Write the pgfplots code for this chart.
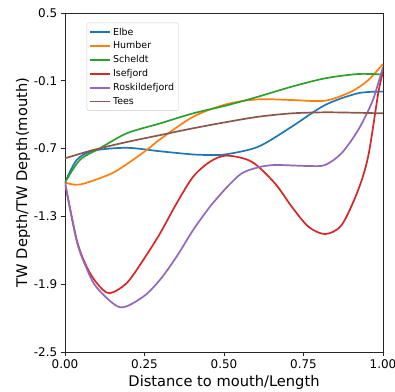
\documentclass[border=0pt]{standalone}
\usepackage{pgfplots}
\pgfplotsset{compat=1.18}
\usepackage{fontspec}
\setmainfont{DejaVu Sans}
\definecolor{tabblue}{HTML}{1F77B4}
\definecolor{taborange}{HTML}{FF7F0E}
\definecolor{tabgreen}{HTML}{2CA02C}
\definecolor{tabred}{HTML}{D62728}
\definecolor{tabpurple}{HTML}{9467BD}
\definecolor{tabbrown}{HTML}{8C564B}
\pgfplotsset{ln/.style={draw=#1, line width=1.7bp, smooth, mark=none}}
\begin{document}
\begin{tikzpicture}
\begin{axis}[
  scale only axis, width=318bp, height=339bp,
  xmin=0, xmax=1, ymin=-2.5, ymax=0.5,
  xtick={0,0.25,0.5,0.75,1}, ytick={0.5,-0.1,-0.7,-1.3,-1.9,-2.5},
  xticklabel style={/pgf/number format/.cd,fixed,fixed zerofill,precision=2},
  yticklabel style={/pgf/number format/.cd,fixed,fixed zerofill,precision=1},
  /pgf/number format/assume math mode=true,
  tick align=outside, tick pos=left,
  major tick length=4.3bp,
  tick label style={font=\fontsize{12}{14}\selectfont},
  xlabel={Distance to mouth/Length},
  ylabel={TW Depth/TW Depth(mouth)},
  every axis x label/.style={at={(axis description cs:0.5,0)}, yshift=-30bp, anchor=center, font=\fontsize{14.7}{17}\selectfont},
  every axis y label/.style={at={(axis description cs:0,0.5)}, xshift=-42bp, rotate=90, anchor=center, font=\fontsize{14.7}{17}\selectfont},
  axis line style={draw=black!85, line width=0.9bp},
  every tick/.style={black!85, line width=0.9bp},
  legend style={at={(21.7bp,329.3bp)}, anchor=north west, font=\fontsize{9.5}{11}\selectfont, draw=black!20, rounded corners=1.5pt, row sep=1.2bp, inner xsep=2.5bp, inner ysep=3bp},
  legend cell align=left,
  legend image code/.code={\draw[#1] (0bp,0bp) -- (20bp,0bp);},
]
\addplot[ln=tabblue] coordinates {(0,-1.0) (0.037,-0.80) (0.089,-0.719) (0.194,-0.693) (0.3,-0.724) (0.403,-0.752) (0.46,-0.756) (0.508,-0.75) (0.608,-0.683) (0.713,-0.506) (0.818,-0.314) (0.922,-0.21) (1.0,-0.196)};
\addlegendentry{Elbe}
\addplot[ln=taborange] coordinates {(0,-1.0) (0.047,-1.018) (0.142,-0.926) (0.194,-0.838) (0.257,-0.712) (0.3,-0.616) (0.403,-0.418) (0.508,-0.307) (0.608,-0.264) (0.713,-0.27) (0.818,-0.276) (0.9,-0.196) (0.954,-0.093) (1.0,0.049)};
\addlegendentry{Humber}
\addplot[ln=tabgreen] coordinates {(0,-1.0) (0.047,-0.80) (0.11,-0.697) (0.194,-0.565) (0.3,-0.476) (0.403,-0.388) (0.508,-0.318) (0.608,-0.24) (0.713,-0.152) (0.818,-0.078) (0.922,-0.04) (1.0,-0.045)};
\addlegendentry{Scheldt}
\addplot[ln=tabred] coordinates {(0,-1.0) (0.037,-1.51) (0.068,-1.745) (0.1,-1.89) (0.139,-1.98) (0.194,-1.89) (0.246,-1.686) (0.299,-1.45) (0.351,-1.184) (0.403,-0.949) (0.456,-0.816) (0.508,-0.762) (0.587,-0.816) (0.66,-1.007) (0.713,-1.214) (0.765,-1.39) (0.818,-1.456) (0.87,-1.376) (0.922,-1.066) (0.954,-0.76) (0.985,-0.21) (1.0,-0.02)};
\addlegendentry{Isefjord}
\addplot[ln=tabpurple] coordinates {(0,-1.0) (0.037,-1.52) (0.068,-1.76) (0.1,-1.93) (0.173,-2.104) (0.246,-2.01) (0.299,-1.86) (0.351,-1.656) (0.403,-1.42) (0.456,-1.214) (0.508,-1.045) (0.556,-0.919) (0.608,-0.866) (0.66,-0.845) (0.765,-0.854) (0.818,-0.845) (0.87,-0.74) (0.922,-0.535) (0.964,-0.3) (0.985,-0.122) (1.0,0.02)};
\addlegendentry{Roskildefjord}
\addplot[ln=tabbrown] coordinates {(0,-0.786) (0.089,-0.712) (0.194,-0.642) (0.3,-0.58) (0.403,-0.52) (0.508,-0.465) (0.608,-0.418) (0.713,-0.388) (0.818,-0.379) (0.92,-0.383) (1.0,-0.388)};
\addlegendentry{Tees}
\end{axis}
\pgfresetboundingbox
\path[use as bounding box] ([shift={(-65bp,-40bp)}]current axis.south west) rectangle ([shift={(12bp,13bp)}]current axis.north east);
\end{tikzpicture}
\end{document}
